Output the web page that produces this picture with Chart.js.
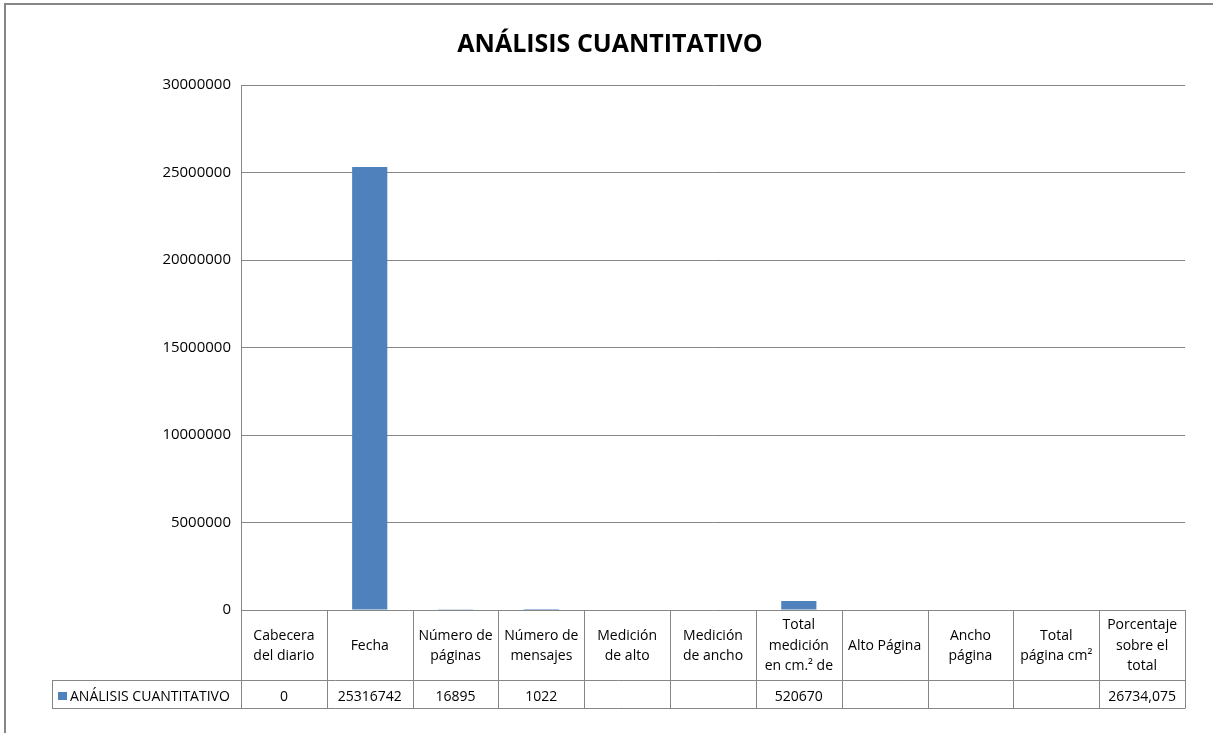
<!DOCTYPE html>
<html>
<head>
<meta charset="utf-8">
<script src="https://cdn.jsdelivr.net/npm/chart.js@4"></script>
<style>
  html, body { margin: 0; padding: 0; background: #fff; }
  #wrap { width: 1213px; height: 733px; }
</style>
</head>
<body>
<div id="wrap"><canvas id="analisisChart"></canvas></div>
<script>
const categories = [
  ["Cabecera", "del diario"],
  ["Fecha"],
  ["Número de", "páginas"],
  ["Número de", "mensajes"],
  ["Medición", "de alto"],
  ["Medición", "de ancho"],
  ["Total", "medición", "en cm.² de"],
  ["Alto Página"],
  ["Ancho", "página"],
  ["Total", "página cm²"],
  ["Porcentaje", "sobre el", "total"],
];
const seriesName = "ANÁLISIS CUANTITATIVO";
const values = [0, 25316742, 16895, 1022, null, null, 520670, null, null, null, 26734.075];
const valueLabels = ["0", "25316742", "16895", "1022", "", "", "520670", "", "", "", "26734,075"];
const yTicks = [0, 5000000, 10000000, 15000000, 20000000, 25000000, 30000000];

const barColor = "#4f81bd";
const lineColor = "#868686";
const tableFont = "14px 'Open Sans'";

// title, data table under the plot and outer frame, placed from the x scale
const dataTable = {
  id: "dataTable",
  afterDraw(chart) {
    const { ctx, chartArea, scales } = chart;
    const x = scales.x;
    const top = chartArea.bottom;
    const headBottom = top + 70;
    const rowBottom = headBottom + 28;
    const half = (chartArea.right - chartArea.left) / categories.length / 2;
    const labelLeft = 52;

    ctx.save();
    ctx.strokeStyle = lineColor;

    // outer frame
    ctx.lineWidth = 2;
    ctx.beginPath();
    ctx.moveTo(5, 733);
    ctx.lineTo(5, 4);
    ctx.lineTo(1213, 4);
    ctx.stroke();
    ctx.lineWidth = 1;

    // title
    ctx.fillStyle = "#000";
    ctx.font = "bold 25px 'Open Sans'";
    ctx.textAlign = "center";
    ctx.textBaseline = "middle";
    ctx.fillText(seriesName, 610, 45);

    ctx.beginPath();
    categories.forEach((c, i) => {
      const cx = Math.round(x.getPixelForTick(i) - half) + 0.5;
      ctx.moveTo(cx, top);
      ctx.lineTo(cx, rowBottom);
    });
    const rx = Math.round(chartArea.right) + 0.5;
    ctx.moveTo(rx, top);
    ctx.lineTo(rx, rowBottom);
    ctx.moveTo(labelLeft + 0.5, headBottom);
    ctx.lineTo(labelLeft + 0.5, rowBottom);
    ctx.moveTo(labelLeft, Math.round(headBottom) + 0.5);
    ctx.lineTo(rx, Math.round(headBottom) + 0.5);
    ctx.moveTo(labelLeft, Math.round(rowBottom) + 0.5);
    ctx.lineTo(rx, Math.round(rowBottom) + 0.5);
    ctx.stroke();

    ctx.font = tableFont;
    const lineH = 20.5;
    const rowMid = (headBottom + rowBottom) / 2 + 3;
    categories.forEach((lines, i) => {
      const cx = x.getPixelForTick(i);
      const midY = (top + headBottom) / 2 + 1;
      lines.forEach((t, j) => {
        ctx.fillText(t, cx, midY + (j - (lines.length - 1) / 2) * lineH);
      });
      ctx.fillText(valueLabels[i], cx, rowMid);
    });

    // legend key + series name
    ctx.fillStyle = barColor;
    ctx.fillRect(58, 692, 9, 8);
    ctx.fillStyle = "#000";
    ctx.textAlign = "left";
    ctx.fillText(seriesName, 70, rowMid);
    ctx.restore();
  },
};

new Chart(document.getElementById("analisisChart"), {
  type: "bar",
  data: {
    labels: categories,
    datasets: [
      {
        label: seriesName,
        data: values,
        backgroundColor: barColor,
        categoryPercentage: 1,
        barPercentage: 0.41,
      },
    ],
  },
  options: {
    responsive: true,
    maintainAspectRatio: false,
    animation: false,
    layout: {
      padding: { left: 0, right: 28, top: 85, bottom: 123 },
    },
    scales: {
      x: {
        ticks: { display: false },
        grid: { display: false },
        border: { display: false },
        afterFit(scale) {
          scale.height = 0;
        },
      },
      y: {
        min: 0,
        max: 30000000,
        afterBuildTicks(scale) {
          scale.ticks = yTicks.map((v) => ({ value: v }));
        },
        afterFit(scale) {
          scale.width = 241;
        },
        ticks: {
          color: "#000",
          padding: 10,
          font: { family: "'Open Sans'", size: 15 },
          callback: (v) => String(v),
        },
        grid: { color: lineColor, drawTicks: false },
        border: { color: lineColor },
      },
    },
    plugins: {
      legend: { display: false },
      tooltip: { enabled: false },
      title: { display: false },
    },
  },
  plugins: [dataTable],
});
</script>
</body>
</html>
